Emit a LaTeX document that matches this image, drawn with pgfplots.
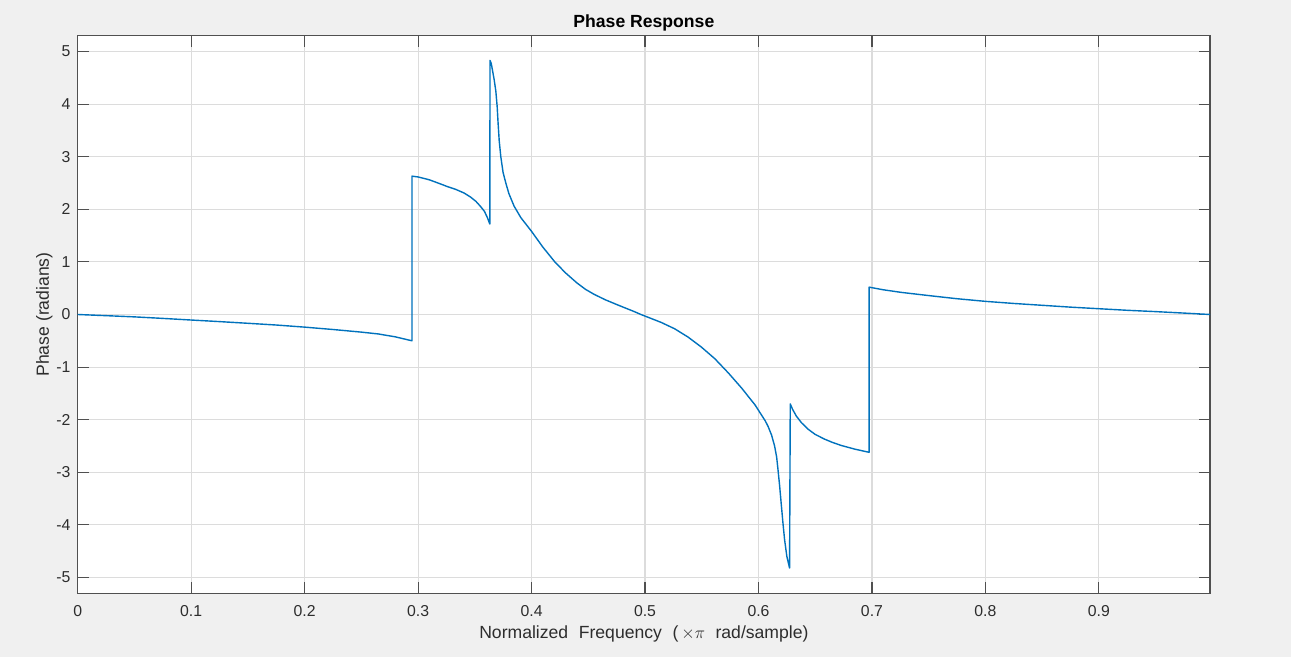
\documentclass[border=0pt]{standalone}
\usepackage{pgfplots}
\pgfplotsset{compat=1.18}
\usepackage{fontspec}
\setmainfont{Liberation Sans}
\definecolor{bg}{RGB}{240,240,240}
\definecolor{mline}{RGB}{0,114,189}
\definecolor{gridc}{RGB}{220,220,220}
\definecolor{axc}{RGB}{80,80,80}
\definecolor{txt}{RGB}{45,45,45}
\begin{document}
\begin{tikzpicture}
\path[use as bounding box, fill=bg] (-77.7pt,-63.7pt) rectangle (1213.3pt,593.3pt);
\begin{axis}[
  at={(0pt,0pt)}, anchor=south west,
  scale only axis, width=1132.3pt, height=557.6pt,
  xmin=0, xmax=0.998, ymin=-5.3, ymax=5.3,
  axis background/.style={fill=white},
  xtick={0,0.1,0.2,0.3,0.4,0.5,0.6,0.7,0.8,0.9},
  xticklabels={0,0.1,0.2,0.3,0.4,0.5,0.6,0.7,0.8,0.9},
  ytick={-5,-4,-3,-2,-1,0,1,2,3,4,5},
  yticklabels={-5,-4,-3,-2,-1,0,1,2,3,4,5},
  /pgf/number format/assume math mode=true,
  grid=major,
  major grid style={gridc, line width=1.1pt},
  axis line style={axc, line width=1.3pt},
  tick style={axc, line width=1.1pt},
  major tick length=11pt,
  tick align=inside,
  ticklabel style={font=\fontsize{15.8}{18}\selectfont, text=txt},
  xticklabel style={anchor=base, inner sep=0pt, yshift=-23.4pt},
  yticklabel style={anchor=east, inner sep=0pt, xshift=-7pt},
  title={Phase Response},
  title style={font=\fontsize{17.6}{20}\selectfont\bfseries, text=black, at={(axis description cs:0.5,1)}, anchor=base, yshift=2.3pt},
  xlabel={Normalized\hspace{0.6em}Frequency\hspace{0.6em}(\,$\times\pi$\hspace{0.6em}rad/sample)},
  xlabel style={font=\fontsize{17.6}{20}\selectfont, text=txt, at={(axis description cs:0.5,0)}, anchor=base, yshift=-45pt},
  ylabel={Phase (radians)},
  ylabel style={font=\fontsize{17.6}{20}\selectfont, text=txt, at={(axis description cs:-0.02535,0.5)}, anchor=base},
]
\addplot[mline, line width=1.4pt, line join=round, no markers] coordinates {
(0,0) (0.025,-0.022) (0.05,-0.045) (0.075,-0.074) (0.1,-0.105) (0.125,-0.135) (0.15,-0.167) (0.175,-0.2)
(0.2,-0.24) (0.225,-0.285) (0.25,-0.335) (0.265,-0.37) (0.28,-0.425) (0.2946,-0.50)
(0.2946,2.63) (0.30,2.615) (0.31,2.56) (0.32,2.48) (0.326,2.43) (0.333,2.38) (0.3405,2.31) (0.3464,2.23)
(0.351,2.15) (0.3552,2.05) (0.3585,1.96) (0.3611,1.84) (0.3632,1.72)
(0.3634,4.83) (0.3645,4.77) (0.3655,4.65) (0.367,4.47) (0.3685,4.25) (0.3697,3.95) (0.3705,3.64)
(0.3715,3.30) (0.3729,3.00) (0.3749,2.70) (0.3773,2.50) (0.380,2.30) (0.3846,2.06) (0.3906,1.84)
(0.3964,1.68) (0.4,1.58) (0.41,1.28) (0.4205,1.00) (0.43,0.79) (0.44,0.60) (0.4474,0.48)
(0.455,0.385) (0.465,0.28) (0.475,0.19) (0.49,0.06) (0.4964,0.0) (0.5,-0.03) (0.5142,-0.15) (0.526,-0.27)
(0.538,-0.43) (0.5497,-0.62) (0.5615,-0.84) (0.5734,-1.11) (0.5852,-1.40) (0.597,-1.72) (0.6059,-2.02)
(0.6083,-2.12) (0.6115,-2.29) (0.6142,-2.50) (0.616,-2.71) (0.6172,-2.95) (0.6186,-3.25) (0.620,-3.59)
(0.6215,-3.95) (0.623,-4.28) (0.625,-4.60) (0.6274,-4.82)
(0.628,-1.70) (0.630,-1.80) (0.6333,-1.93) (0.638,-2.06) (0.6437,-2.18) (0.65,-2.28) (0.6583,-2.37)
(0.665,-2.43) (0.673,-2.49) (0.685,-2.56) (0.6975,-2.62)
(0.6975,0.52) (0.71,0.47) (0.726,0.42) (0.75,0.36) (0.775,0.30) (0.8,0.25) (0.825,0.21) (0.85,0.175)
(0.875,0.14) (0.9,0.11) (0.925,0.08) (0.95,0.055) (0.975,0.027) (0.998,0.0)
};
\end{axis}
\end{tikzpicture}
\end{document}
